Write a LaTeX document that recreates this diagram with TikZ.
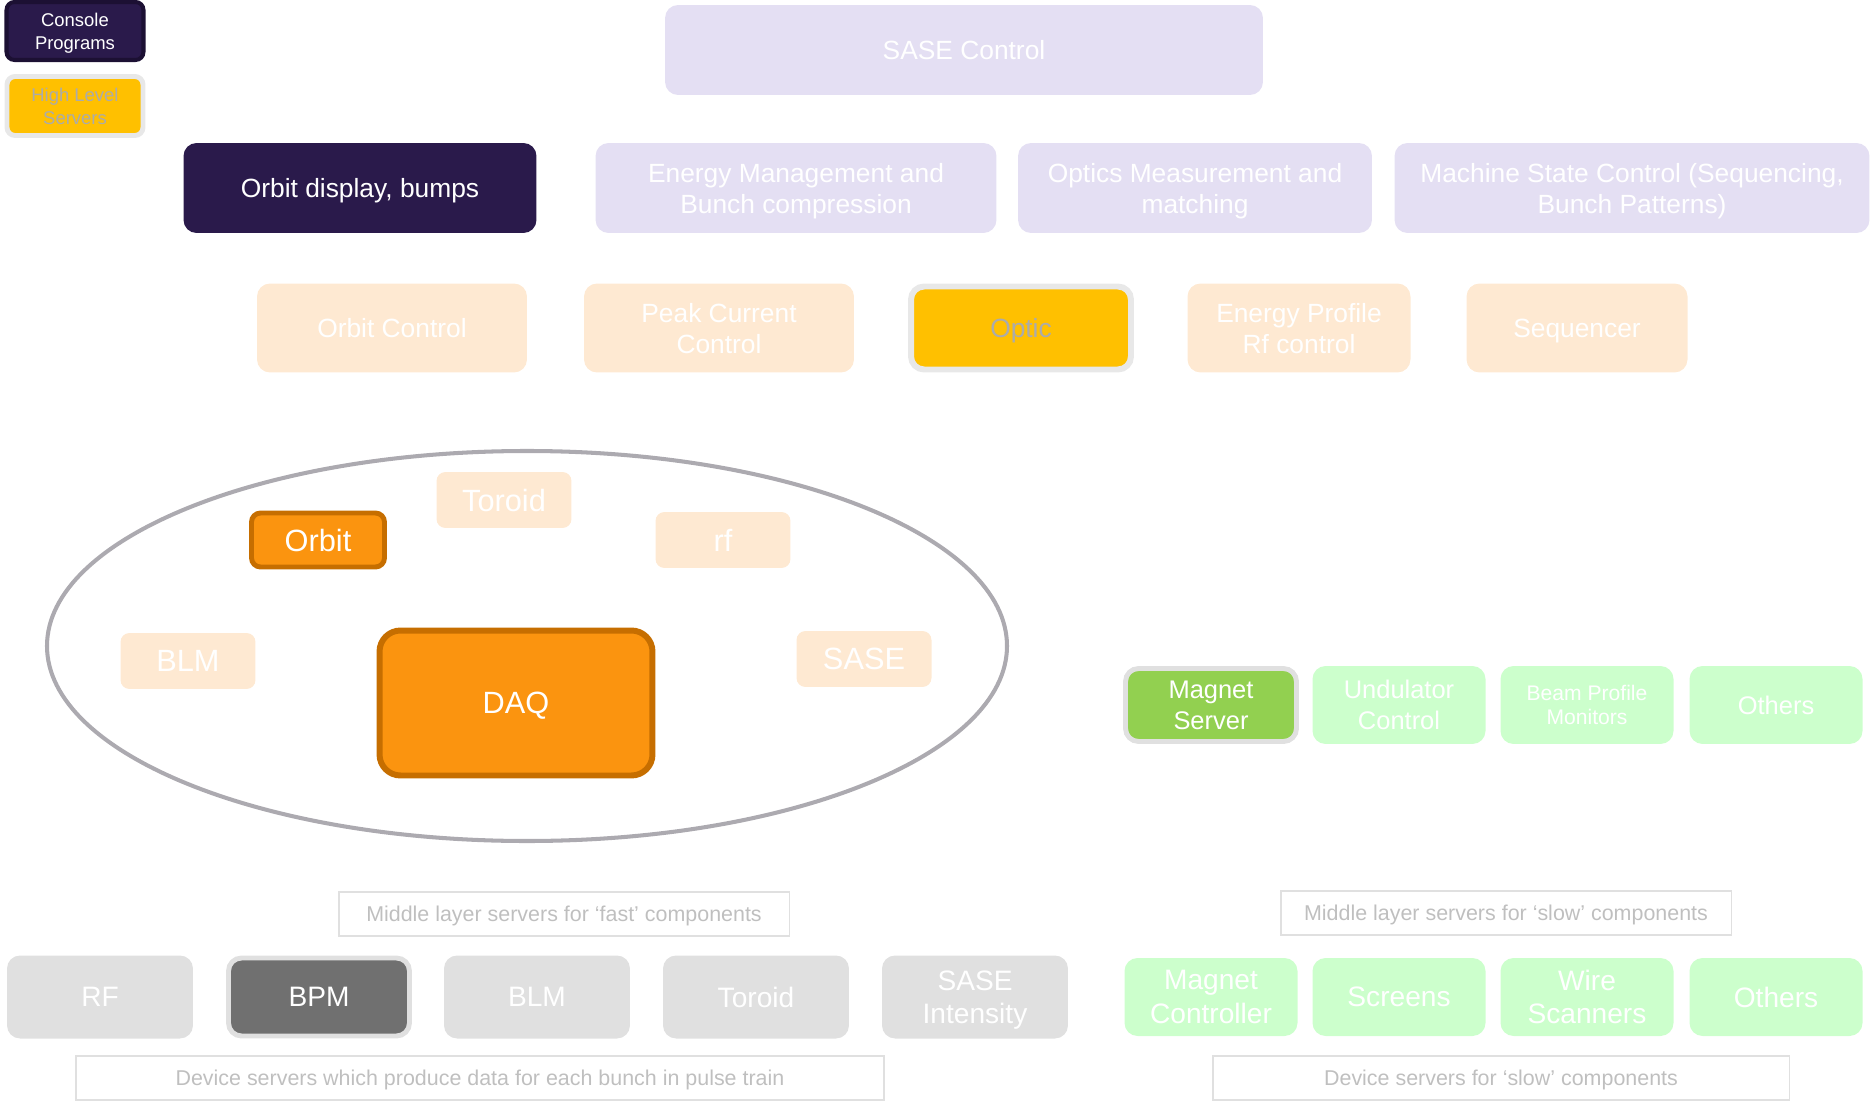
\documentclass[tikz,border=0pt]{standalone}
\usepackage{fontspec}
\setmainfont{Liberation Sans}
\usepackage{tikz}

\definecolor{darkprog}{HTML}{2A1A4B}
\definecolor{darkedge}{HTML}{1C1033}
\definecolor{lavender}{HTML}{E4DFF3}
\definecolor{peach}{HTML}{FEE9D2}
\definecolor{gold}{HTML}{FFC000}
\definecolor{paleedge}{HTML}{E8E8E8}
\definecolor{dimtext}{HTML}{ABABAB}
\definecolor{daqorange}{HTML}{FB940F}
\definecolor{daqedge}{HTML}{C66E00}
\definecolor{mint}{HTML}{CCFFCC}
\definecolor{leafgreen}{HTML}{92D050}
\definecolor{devgray}{HTML}{E0E0E0}
\definecolor{bpmgray}{HTML}{707070}
\definecolor{ringgray}{HTML}{ACAAB0}
\definecolor{notetext}{HTML}{BFBFBF}

\newcommand{\fsz}[2]{\fontsize{#1}{#2}\selectfont}

\begin{document}
\begin{tikzpicture}[x=0.02cm, y=-0.02cm,
  box/.style={rounded corners=0.26cm, align=center, inner sep=0pt, text depth=0pt, text=white},
  legendprog/.style={box, rounded corners=0.16cm, fill=darkprog, draw=darkedge, line width=2.3pt,
    minimum width=2.74cm, minimum height=1.16cm, font=\fsz{10.5}{13}},
  legendhls/.style={box, rounded corners=0.16cm, fill=gold, draw=paleedge, line width=2.8pt,
    text=dimtext, minimum width=2.72cm, minimum height=1.18cm, font=\fsz{10.5}{13}},
  topapp/.style={box, fill=lavender, minimum height=1.8cm, font=\fsz{15}{17.6}},
  hlserver/.style={box, fill=peach, minimum height=1.78cm, font=\fsz{15}{17.6}},
  fastsrv/.style={box, rounded corners=0.18cm, fill=peach, minimum width=2.7cm,
    minimum height=1.12cm, font=\fsz{17.5}{19}},
  activesrv/.style={box, rounded corners=0.18cm, fill=daqorange, draw=daqedge, line width=2.8pt},
  slowsrv/.style={box, fill=mint, minimum width=3.46cm, minimum height=1.56cm, font=\fsz{14.5}{17.8}},
  device/.style={box, fill=devgray, minimum width=3.72cm, minimum height=1.66cm, font=\fsz{16}{19}},
  slowdev/.style={box, fill=mint, minimum width=3.46cm, minimum height=1.56cm, font=\fsz{16}{19}},
  note/.style={draw=devgray, line width=1.1pt, text=notetext, inner sep=0pt, text depth=0pt,
    font=\fsz{12.2}{14}}
]
  \useasboundingbox (0,0) rectangle (1875,1104);

  % legend
  \node[legendprog] (legprog) at (75,31)  {Console\\Programs};
  \node[legendhls]  (leghls)  at (75,106) {High Level\\Servers};

  % console programs
  \node[topapp, minimum width=11.96cm] (sase) at (964,50) {SASE Control};
  \node[topapp, fill=darkprog, minimum width=7.06cm] (orbdisp) at (360,188) {Orbit display, bumps};
  \node[topapp, minimum width=8.02cm] (energy)  at (796,188)  {Energy Management and\\Bunch compression};
  \node[topapp, minimum width=7.08cm] (optics)  at (1195,188) {Optics Measurement and\\matching};
  \node[topapp, minimum width=9.5cm]  (machine) at (1632,188) {Machine State Control (Sequencing,\\Bunch Patterns)};

  % high level servers
  \node[hlserver, minimum width=5.4cm]  (orbctl)  at (392,328)  {Orbit Control};
  \node[hlserver, minimum width=5.4cm]  (peak)    at (719,328)  {Peak Current\\Control};
  \node[hlserver, fill=gold, draw=paleedge, line width=3.4pt, text=dimtext,
        minimum width=4.4cm, minimum height=1.66cm] (optic) at (1021,328) {Optic};
  \node[hlserver, minimum width=4.46cm] (eprof)   at (1299,328) {Energy Profile\\Rf control};
  \node[hlserver, minimum width=4.42cm] (seqr)    at (1577,328) {Sequencer};

  % fast middle layer
  \draw[ringgray, line width=2.3pt] (527,646) ellipse [x radius=480, y radius=195];
  \node[fastsrv] (toroidsrv) at (504,500) {Toroid};
  \node[fastsrv] (rfsrv)     at (723,540) {rf};
  \node[fastsrv] (blmsrv)    at (188,661) {BLM};
  \node[fastsrv] (sasesrv)   at (864,659) {SASE};
  \node[activesrv, minimum width=2.66cm, minimum height=1.08cm, font=\fsz{17.5}{19}] (orbsrv) at (318,540) {Orbit};
  \node[activesrv, rounded corners=0.42cm, line width=3.4pt, minimum width=5.46cm, minimum height=2.9cm,
        font=\fsz{17.5}{19}] (daq) at (516,703) {DAQ};

  % slow middle layer
  \node[slowsrv, fill=leafgreen, draw=devgray, line width=2.8pt,
        minimum width=3.42cm, minimum height=1.46cm] (magsrv) at (1211,705) {Magnet\\Server};
  \node[slowsrv] (undul)  at (1399,705) {Undulator\\Control};
  \node[slowsrv, font=\fsz{12}{13.5}] (bpmon) at (1587,705) {Beam Profile\\Monitors};
  \node[slowsrv] (others) at (1776,705) {Others};

  \node[note, minimum width=9.02cm, minimum height=0.88cm] (fastnote) at (564,914)  {Middle layer servers for ‘fast’ components};
  \node[note, minimum width=9.02cm, minimum height=0.88cm] (slownote) at (1506,913) {Middle layer servers for ‘slow’ components};

  % device servers
  \node[device] (rfdev)     at (100,997) {RF};
  \node[device, fill=bpmgray, draw=devgray, line width=2.8pt,
        minimum width=3.62cm, minimum height=1.56cm] (bpmdev) at (319,997) {BPM};
  \node[device] (blmdev)    at (537,997) {BLM};
  \node[device] (toroiddev) at (756,997) {Toroid};
  \node[device] (sasedev)   at (975,997) {SASE\\Intensity};
  \node[slowdev] (magdev)    at (1211,997) {Magnet\\Controller};
  \node[slowdev] (screens)   at (1399,997) {Screens};
  \node[slowdev] (wires)     at (1587,997) {Wire\\Scanners};
  \node[slowdev] (otherdev)  at (1776,997) {Others};

  \node[note, minimum width=16.18cm, minimum height=0.88cm] (fastdevnote) at (480,1078)  {Device servers which produce data for each bunch in pulse train};
  \node[note, minimum width=11.54cm, minimum height=0.88cm] (slowdevnote) at (1501,1078) {Device servers for ‘slow’ components};
\end{tikzpicture}
\end{document}
